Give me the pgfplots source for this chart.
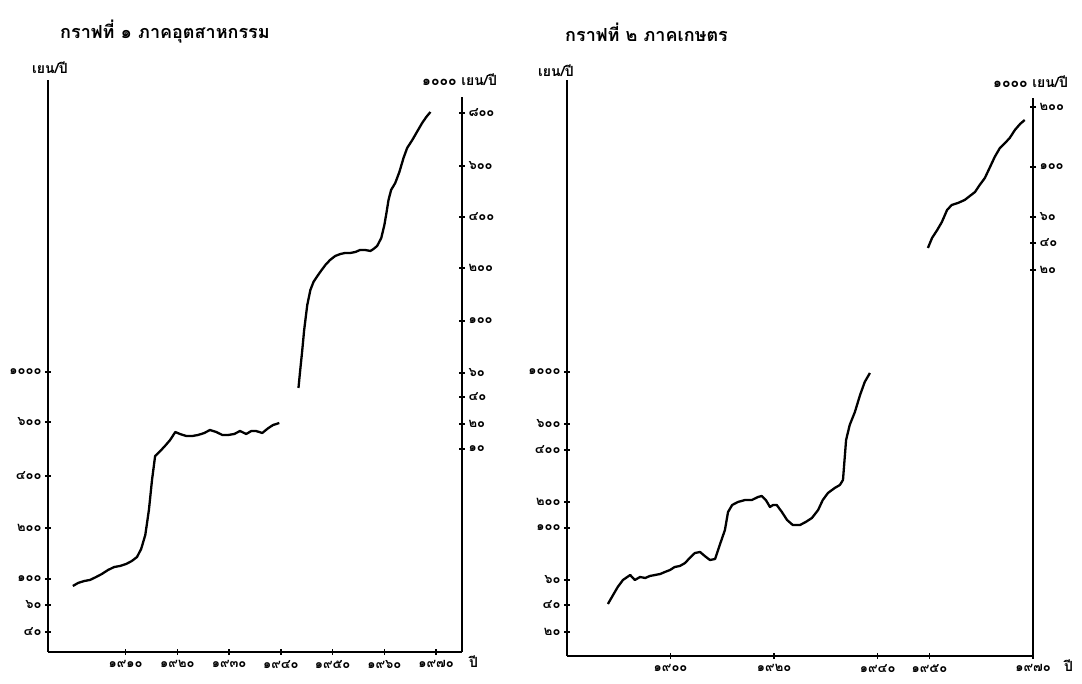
\documentclass[border=0pt]{standalone}
\usepackage{fontspec}
\usepackage{pgfplots}
\pgfplotsset{compat=1.18}
\newfontfamily\thai[Script=Thai]{Loma}

% 1 px of the reference = 1 pt here; y values are heights above the baseline (px)
\pgfplotsset{
  panel/.style={
    scale only axis, anchor=south west, clip=false, ymin=0,
    tick align=inside,
    major tick style={line width=1.6pt, black},
    major tick length=6pt,
    tick label style={font=\thai\bfseries\fontsize{13}{15}\selectfont},
    xticklabel style={yshift=-2pt},
  },
  plain lines/.style={axis line style={-, line width=2.6pt, black}},
  curve/.style={black, line width=2.3pt, no marks, line join=round},
}

\begin{document}
\begin{tikzpicture}
\path[use as bounding box, fill=white] (0pt,0pt) rectangle (1082pt,684pt);

% ---------- panel 1: industry ----------
\begin{axis}[panel, at={(48pt,32pt)}, width=414pt, height=572pt,
  xmin=1895, xmax=1975, ymax=572,
  axis x line=bottom, axis y line=left, plain lines,
  xtick={1910,1920,1930,1940,1950,1960,1970},
  xticklabels={๑๙๑๐,๑๙๒๐,๑๙๓๐,๑๙๔๐,๑๙๕๐,๑๙๖๐,๑๙๗๐},
  ytick={20,47,73,124,176,230,280},
  yticklabels={๔๐,๖๐,๑๐๐,๒๐๐,๔๐๐,๖๐๐,๑๐๐๐},
]
\addplot[curve] coordinates {
(1899.8,66)(1900.8,69)(1902.0,71)(1903.1,72)(1904.3,75)(1905.4,78)(1906.6,82)
(1907.8,85)(1908.9,86)(1910.1,88)(1911.2,91)(1912.2,95)(1913.0,103)(1913.8,117)
(1914.5,142)(1915.1,172)(1915.7,196)(1916.7,201)(1917.6,206)(1918.6,212)
(1919.6,220)(1920.5,218)(1921.7,216)(1922.9,216)(1924.0,217)(1925.2,219)
(1926.3,222)(1927.5,220)(1928.7,217)(1929.8,217)(1931.0,218)(1932.1,221)
(1933.3,218)(1934.3,221)(1935.2,221)(1936.4,219)(1937.6,224)(1938.5,227)(1939.7,229)
};
\end{axis}

\begin{axis}[panel, at={(48pt,32pt)}, width=414pt, height=555pt,
  xmin=1895, xmax=1975, ymax=555,
  axis x line=none, axis y line=right, plain lines,
  ytick={203,228,255,279,331,384,435,486,539},
  yticklabels={๑๐,๒๐,๔๐,๖๐,๑๐๐,๒๐๐,๔๐๐,๖๐๐,๘๐๐},
]
\addplot[curve] coordinates {
(1943.4,264)(1943.7,280)(1944.1,300)(1944.5,322)(1945.1,347)(1945.7,362)
(1946.3,370)(1946.8,374)(1947.6,380)(1948.6,387)(1949.5,392)(1950.5,396)
(1951.5,398)(1952.4,399)(1953.4,399)(1954.4,400)(1955.3,402)(1956.3,402)
(1957.3,401)(1957.9,403)(1958.6,406)(1959.4,414)(1960.0,427)(1960.4,439)
(1960.8,452)(1961.3,462)(1962.1,469)(1962.9,480)(1963.7,494)(1964.4,504)
(1965.4,512)(1966.4,521)(1967.3,529)(1968.1,535)(1968.9,540)
};
\end{axis}

% ---------- panel 2: agriculture ----------
\begin{axis}[panel, at={(567pt,28pt)}, width=466pt, height=576pt,
  xmin=1880, xmax=1970, ymax=576,
  axis x line=bottom, axis y line=left, plain lines,
  xtick={1900,1920,1940,1950,1970},
  xticklabels={๑๙๐๐,๑๙๒๐,๑๙๔๐,๑๙๕๐,๑๙๗๐},
  ytick={24,51,76,128,154,206,232,284},
  yticklabels={๒๐,๔๐,๖๐,๑๐๐,๒๐๐,๔๐๐,๖๐๐,๑๐๐๐},
]
\addplot[curve] coordinates {
(1887.9,52)(1888.9,61)(1889.8,69)(1890.8,76)(1892.2,81)(1893.1,76)(1894.1,79)
(1895.1,78)(1896.0,80)(1897.0,81)(1898.0,82)(1898.9,84)(1899.9,86)(1900.8,89)
(1901.8,90)(1902.8,93)(1903.7,98)(1904.7,103)(1905.7,104)(1906.6,100)(1907.6,96)
(1908.6,97)(1909.5,111)(1910.5,126)(1911.1,144)(1911.9,151)(1913.0,154)
(1914.4,156)(1915.7,156)(1916.9,159)(1917.6,160)(1918.4,156)(1919.2,149)
(1919.8,151)(1920.5,151)(1921.5,144)(1922.5,136)(1923.6,131)(1925.0,131)
(1926.1,134)(1927.3,138)(1928.5,146)(1929.4,156)(1930.4,163)(1931.7,168)
(1932.7,171)(1933.3,176)(1933.9,216)(1934.6,231)(1935.6,244)(1936.6,261)
(1937.5,274)(1938.5,283)
};
\end{axis}

\begin{axis}[panel, at={(567pt,28pt)}, width=466pt, height=558pt,
  xmin=1880, xmax=1970, ymax=558,
  axis x line=none, axis y line=right, plain lines,
  ytick={386,413,439,489,549},
  yticklabels={๒๐,๔๐,๖๐,๑๐๐,๒๐๐},
]
\addplot[curve] coordinates {
(1949.7,408)(1950.5,418)(1951.5,426)(1952.4,434)(1953.4,446)(1954.3,451)
(1955.5,453)(1956.8,456)(1957.8,460)(1958.8,464)(1959.7,471)(1960.7,478)
(1961.7,489)(1962.6,499)(1963.6,508)(1964.6,513)(1965.5,518)(1966.5,526)
(1967.5,532)(1968.4,536)
};
\end{axis}

% ---------- titles and unit labels ----------
\begin{scope}[every node/.style={font=\thai\bfseries\fontsize{18}{20}\selectfont, inner sep=0pt}]
\node[anchor=west] at (60pt,652pt) {กราฟที่ ๑ ภาคอุตสาหกรรม};
\node[anchor=west] at (565pt,652pt) {กราฟที่ ๒ ภาคเกษตร};
\end{scope}
\begin{scope}[every node/.style={font=\thai\bfseries\fontsize{14}{16}\selectfont, inner sep=0pt}]
\node[anchor=west] at (32pt,616pt) {เยน/ปี};
\node[anchor=west] at (538pt,613pt) {เยน/ปี};
\node[anchor=west] at (422pt,604pt) {๑๐๐๐ เยน/ปี};
\node[anchor=west] at (993pt,602pt) {๑๐๐๐ เยน/ปี};
\node[anchor=west] at (469pt,22pt) {ปี};
\node[anchor=west] at (1064pt,18pt) {ปี};
\end{scope}
\end{tikzpicture}
\end{document}
